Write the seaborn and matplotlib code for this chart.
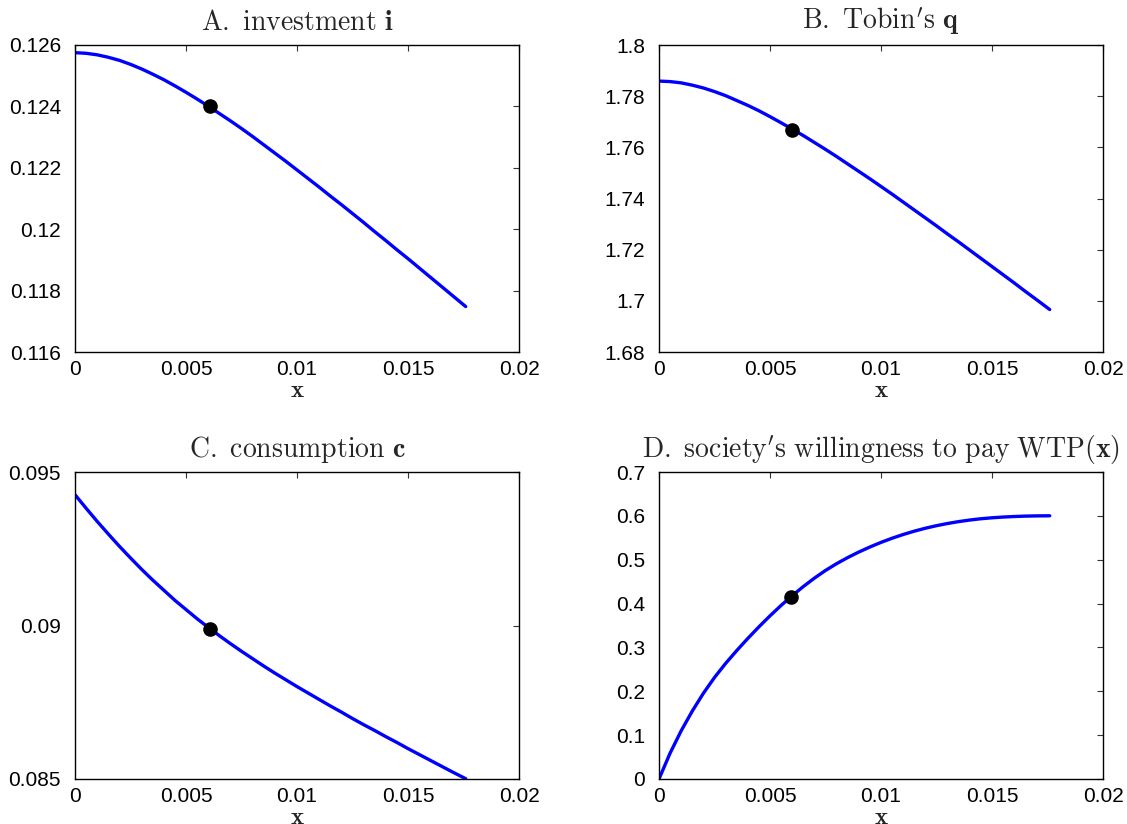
import numpy as np
import pandas as pd
import matplotlib
matplotlib.use("Agg")
import matplotlib.pyplot as plt
from matplotlib.ticker import FuncFormatter, MultipleLocator
import seaborn as sns

# ---- data ----
x_grid = [0.0, 0.0005, 0.001, 0.0015, 0.002, 0.0025, 0.003, 0.0035, 0.004,
          0.0045, 0.005, 0.0055, 0.006, 0.0065, 0.007, 0.0075, 0.008, 0.0085,
          0.009, 0.0095, 0.010, 0.0105, 0.011, 0.0115, 0.012, 0.0125, 0.013,
          0.0135, 0.014, 0.0145, 0.015, 0.0155, 0.016, 0.0165, 0.017, 0.0176]

investment = [0.12575, 0.12573, 0.12568, 0.12560, 0.12550, 0.12537, 0.12522,
              0.12505, 0.12487, 0.12467, 0.12446, 0.12424, 0.12401, 0.12377,
              0.12353, 0.12328, 0.12302, 0.12275, 0.12248, 0.12221, 0.12193,
              0.12165, 0.12137, 0.12108, 0.12080, 0.12051, 0.12022, 0.11992,
              0.11963, 0.11933, 0.11904, 0.11874, 0.11844, 0.11814, 0.11784,
              0.11748]

tobins_q = [1.7859, 1.7857, 1.7852, 1.7843, 1.7832, 1.7818, 1.7802, 1.7783,
            1.7764, 1.7743, 1.7720, 1.7696, 1.7671, 1.7646, 1.7619, 1.7592,
            1.7564, 1.7535, 1.7506, 1.7477, 1.7447, 1.7417, 1.7386, 1.7355,
            1.7324, 1.7293, 1.7261, 1.7230, 1.7198, 1.7166, 1.7134, 1.7102,
            1.7070, 1.7037, 1.7005, 1.6966]

consumption = [0.09426, 0.09382, 0.09339, 0.09298, 0.09258, 0.09220, 0.09183,
               0.09148, 0.09115, 0.09082, 0.09052, 0.09022, 0.08994, 0.08967,
               0.08941, 0.08916, 0.08892, 0.08868, 0.08845, 0.08823, 0.08801,
               0.08780, 0.08759, 0.08738, 0.08718, 0.08697, 0.08677, 0.08658,
               0.08638, 0.08619, 0.08599, 0.08580, 0.08561, 0.08542, 0.08523,
               0.08501]

wtp = [0.000, 0.059, 0.110, 0.155, 0.1955, 0.2315, 0.2635, 0.2928, 0.3205,
       0.3469, 0.372, 0.3958, 0.418, 0.4388, 0.458, 0.4755, 0.491, 0.5049,
       0.5175, 0.529, 0.5395, 0.549, 0.5575, 0.5651, 0.5718, 0.5776, 0.5826,
       0.5869, 0.5905, 0.5934, 0.5956, 0.5973, 0.5985, 0.5994, 0.5999, 0.6002]

dot_x = [0.0061, 0.0060, 0.0061, 0.00594]
dot_y = [0.1240, 1.7668, 0.08988, 0.416]

titles = [r"$\mathrm{A.\ investment\ }\mathbf{i}$",
          r"$\mathrm{B.\ Tobin's\ }\mathbf{q}$",
          r"$\mathrm{C.\ consumption\ }\mathbf{c}$",
          r"$\mathrm{D.\ society's\ willingness\ to\ pay\ WTP(}\mathbf{x}\mathrm{)}$"]

ylims = [(0.116, 0.126), (1.68, 1.80), (0.085, 0.095), (0.0, 0.7)]
ysteps = [0.002, 0.02, 0.005, 0.1]
x_ticks = [0, 0.005, 0.01, 0.015, 0.02]

series = [investment, tobins_q, consumption, wtp]

# ---- style ----
sns.set_style("white")
plt.rcParams['font.family'] = ['Liberation Sans', 'DejaVu Sans']
plt.rcParams['mathtext.fontset'] = 'cm'

fig = plt.figure(figsize=(11.27, 8.24), dpi=100)
W, H = 1127, 824
boxes = [(75, 519, 45, 352), (659, 1103, 45, 352),
         (75, 519, 472, 779), (659, 1103, 472, 779)]

fmt = FuncFormatter(lambda v, p: f"{round(v, 6):g}")

for k in range(4):
    l, r, t, b = boxes[k]
    ax = fig.add_axes([l / W, 1 - b / H, (r - l) / W, (b - t) / H])
    df = pd.DataFrame({"x": x_grid, "y": series[k]})
    sns.lineplot(data=df, x="x", y="y", ax=ax, color=(0, 0, 1), lw=2.4,
                 estimator=None, sort=False)
    sns.scatterplot(x=[dot_x[k]], y=[dot_y[k]], ax=ax, color="black",
                    s=90, edgecolor="black", linewidth=1, zorder=5)
    ax.set_xlim(0, 0.02)
    ax.set_ylim(*ylims[k])
    ax.set_xticks(x_ticks)
    ax.yaxis.set_major_locator(MultipleLocator(ysteps[k]))
    ax.xaxis.set_major_formatter(fmt)
    ax.yaxis.set_major_formatter(fmt)
    ax.tick_params(direction="in", length=4, width=0.8, top=True, right=True,
                   labelsize=15, colors="#333333", labelcolor="black")
    ax.tick_params(axis="x", pad=6)
    ax.tick_params(axis="y", pad=10)
    for s in ax.spines.values():
        s.set_color("black")
        s.set_linewidth(1.0)
        s.set_visible(True)
    ax.set_title(titles[k], fontsize=20, pad=11)
    ax.set_xlabel(r"$\mathbf{x}$", fontsize=18, labelpad=-1)
    ax.set_ylabel("")

fig.savefig("out.png", dpi=100, facecolor="white")
